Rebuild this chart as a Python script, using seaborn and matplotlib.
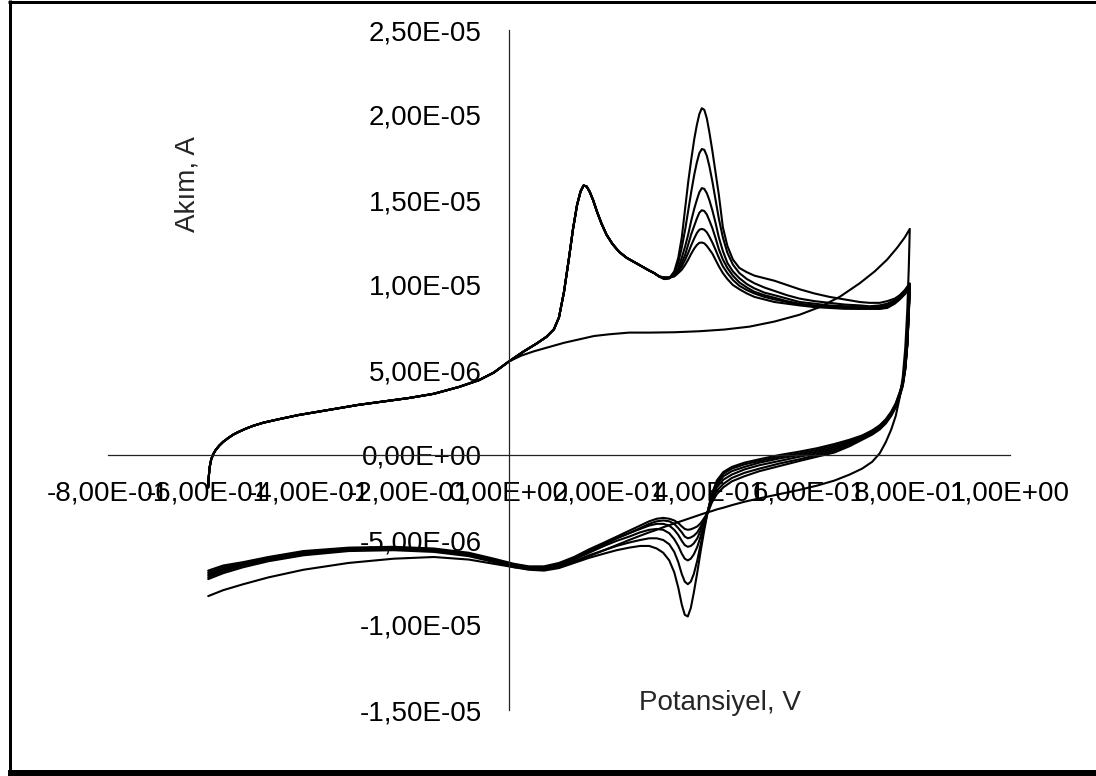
import numpy as np
import pandas as pd
import matplotlib
matplotlib.use("Agg")
import matplotlib.pyplot as plt
from matplotlib.lines import Line2D
import seaborn as sns

# ---------------- data (current in microampere, potential in V) ----------------
# forward scan, part shared by cycles 2-7
FWD_COMMON_V = [-0.600, -0.599, -0.597, -0.594, -0.590, -0.585, -0.578, -0.570, -0.560, -0.550,
                -0.540, -0.525, -0.510, -0.490, -0.460, -0.420, -0.380, -0.340, -0.300, -0.250,
                -0.200, -0.150, -0.100, -0.060, -0.030, 0.000, 0.030, 0.055, 0.075, 0.090,
                0.100, 0.110, 0.120, 0.128, 0.136, 0.143, 0.149, 0.155, 0.161, 0.168,
                0.176, 0.185, 0.195, 0.207, 0.220, 0.235, 0.250, 0.265, 0.280, 0.290]
FWD_COMMON_I = [-1.9, -1.3, -0.7, -0.25, 0.05, 0.3, 0.55, 0.78, 1.0, 1.2,
                1.35, 1.55, 1.72, 1.9, 2.1, 2.35, 2.55, 2.75, 2.95, 3.15,
                3.35, 3.6, 4.0, 4.4, 4.85, 5.5, 6.1, 6.55, 6.95, 7.4,
                8.1, 9.6, 11.6, 13.3, 14.7, 15.5, 15.85, 15.8, 15.5, 15.0,
                14.3, 13.6, 12.95, 12.4, 11.95, 11.6, 11.35, 11.1, 10.85, 10.7]

# forward scan, second oxidation peak region (differs per cycle)
FWD_TAIL_V = [0.300, 0.310, 0.320, 0.330, 0.338, 0.345, 0.352, 0.358, 0.364, 0.370,
              0.375, 0.380, 0.385, 0.390, 0.395, 0.400, 0.406, 0.412, 0.419, 0.427,
              0.436, 0.447, 0.460, 0.475, 0.490, 0.510, 0.530, 0.555, 0.580, 0.610,
              0.640, 0.670, 0.700, 0.720, 0.740, 0.755, 0.770, 0.780, 0.790, 0.800]
FWD_TAIL_C2 = [10.5, 10.45, 10.45, 10.5, 10.7, 10.9, 11.2, 11.5, 11.85, 12.15,
               12.35, 12.48, 12.5, 12.45, 12.3, 12.1, 11.85, 11.5, 11.1, 10.7,
               10.35, 10.0, 9.75, 9.5, 9.3, 9.15, 9.0, 8.9, 8.8, 8.7,
               8.65, 8.6, 8.6, 8.6, 8.6, 8.65, 8.9, 9.15, 9.45, 9.8]
FWD_TAIL_C3 = [10.5, 10.45, 10.45, 10.55, 10.8, 11.1, 11.5, 11.9, 12.35, 12.75,
               13.05, 13.25, 13.3, 13.25, 13.1, 12.85, 12.5, 12.1, 11.6, 11.1,
               10.7, 10.3, 9.95, 9.7, 9.5, 9.3, 9.15, 9.0, 8.85, 8.75,
               8.7, 8.65, 8.6, 8.6, 8.6, 8.7, 8.95, 9.2, 9.5, 9.9]
FWD_TAIL_C4 = [10.5, 10.4, 10.4, 10.55, 10.9, 11.3, 11.8, 12.4, 13.0, 13.5,
               13.9, 14.25, 14.4, 14.35, 14.15, 13.8, 13.35, 12.8, 12.1, 11.5,
               11.0, 10.55, 10.15, 9.85, 9.6, 9.4, 9.25, 9.05, 8.9, 8.8,
               8.75, 8.7, 8.65, 8.65, 8.65, 8.75, 9.0, 9.25, 9.55, 9.95]
FWD_TAIL_C5 = [10.5, 10.4, 10.4, 10.6, 11.0, 11.6, 12.3, 13.0, 13.8, 14.5,
               15.0, 15.45, 15.7, 15.65, 15.4, 15.0, 14.4, 13.7, 12.8, 12.0,
               11.3, 10.8, 10.4, 10.05, 9.8, 9.55, 9.4, 9.2, 9.0, 8.9,
               8.8, 8.75, 8.7, 8.7, 8.7, 8.8, 9.05, 9.3, 9.6, 10.0]
FWD_TAIL_C6 = [10.5, 10.35, 10.4, 10.7, 11.3, 12.2, 13.3, 14.4, 15.5, 16.5,
               17.2, 17.75, 18.0, 17.95, 17.6, 17.0, 16.1, 15.1, 13.9, 12.8,
               11.9, 11.2, 10.7, 10.35, 10.1, 9.85, 9.65, 9.4, 9.2, 9.05,
               8.95, 8.85, 8.8, 8.75, 8.8, 8.9, 9.1, 9.35, 9.65, 10.05]
FWD_TAIL_C7 = [10.5, 10.35, 10.4, 10.8, 11.6, 12.8, 14.6, 16.1, 17.4, 18.6,
               19.4, 20.05, 20.4, 20.3, 19.8, 19.0, 17.9, 16.7, 15.3, 13.4,
               12.3, 11.5, 11.0, 10.75, 10.55, 10.4, 10.25, 10.0, 9.75, 9.5,
               9.3, 9.15, 9.0, 8.95, 8.95, 9.05, 9.2, 9.4, 9.7, 10.1]

# reverse scans (0.8 V -> -0.6 V)
REV_V = [0.798, 0.795, 0.791, 0.786, 0.780, 0.772, 0.763, 0.752, 0.740, 0.725,
         0.705, 0.680, 0.650, 0.615, 0.580, 0.540, 0.500, 0.470, 0.445, 0.428,
         0.415, 0.405, 0.397, 0.390, 0.383, 0.376, 0.369, 0.363, 0.357, 0.351,
         0.345, 0.338, 0.330, 0.320, 0.308, 0.295, 0.280, 0.262, 0.240, 0.215,
         0.190, 0.160, 0.130, 0.100, 0.070, 0.040, 0.010, -0.030, -0.080, -0.150,
         -0.230, -0.320, -0.410, -0.480, -0.530, -0.570, -0.600]
REV_C1 = [11.0, 8.5, 6.3, 4.6, 3.4, 2.3, 1.5, 0.75, 0.1, -0.4,
          -0.8, -1.15, -1.5, -1.8, -2.05, -2.3, -2.55, -2.75, -2.95, -3.1,
          -3.2, -3.3, -3.37, -3.43, -3.5, -3.57, -3.64, -3.7, -3.76, -3.82,
          -3.88, -3.95, -4.03, -4.13, -4.25, -4.4, -4.55, -4.75, -5.0, -5.3,
          -5.6, -5.95, -6.3, -6.55, -6.7, -6.7, -6.6, -6.4, -6.15, -6.0,
          -6.1, -6.35, -6.75, -7.2, -7.6, -7.95, -8.3]
REV_C2 = [8.2, 6.4, 5.0, 4.05, 3.45, 2.8, 2.3, 1.85, 1.5, 1.2,
          0.9, 0.52, 0.15, -0.1, -0.35, -0.65, -0.95, -1.25, -1.55, -1.9,
          -2.3, -2.8, -3.4, -3.7, -4.0, -4.2, -4.3, -4.37, -4.4, -4.35,
          -4.2, -4.0, -3.85, -3.75, -3.7, -3.75, -3.9, -4.15, -4.45, -4.8,
          -5.15, -5.55, -6.0, -6.35, -6.55, -6.55, -6.4, -6.1, -5.75, -5.5,
          -5.4, -5.45, -5.65, -6.0, -6.3, -6.5, -6.8]
REV_C3 = [8.3, 6.45, 5.05, 4.1, 3.5, 2.85, 2.35, 1.9, 1.55, 1.25,
          0.95, 0.6, 0.25, 0.0, -0.25, -0.5, -0.8, -1.05, -1.35, -1.7,
          -2.1, -2.65, -3.35, -3.75, -4.2, -4.55, -4.75, -4.85, -4.9, -4.8,
          -4.55, -4.3, -4.05, -3.9, -3.85, -3.9, -4.05, -4.3, -4.6, -4.9,
          -5.25, -5.65, -6.05, -6.4, -6.6, -6.6, -6.45, -6.15, -5.8, -5.55,
          -5.45, -5.5, -5.7, -6.05, -6.35, -6.6, -6.9]
REV_C4 = [8.4, 6.5, 5.1, 4.15, 3.55, 2.9, 2.4, 1.95, 1.6, 1.3,
          1.0, 0.68, 0.35, 0.1, -0.1, -0.35, -0.6, -0.85, -1.15, -1.45,
          -1.9, -2.5, -3.3, -3.85, -4.4, -4.9, -5.2, -5.35, -5.4, -5.3,
          -5.05, -4.7, -4.4, -4.15, -4.05, -4.05, -4.15, -4.35, -4.6, -4.9,
          -5.25, -5.65, -6.1, -6.45, -6.65, -6.65, -6.5, -6.2, -5.85, -5.6,
          -5.5, -5.55, -5.75, -6.1, -6.4, -6.7, -7.0]
REV_C5 = [8.4, 6.5, 5.15, 4.2, 3.6, 2.95, 2.45, 2.0, 1.65, 1.35,
          1.05, 0.75, 0.45, 0.2, 0.0, -0.2, -0.45, -0.7, -0.95, -1.25,
          -1.75, -2.4, -3.3, -4.0, -4.75, -5.4, -5.85, -6.1, -6.2, -6.1,
          -5.8, -5.35, -4.95, -4.6, -4.4, -4.35, -4.4, -4.55, -4.8, -5.05,
          -5.35, -5.75, -6.15, -6.5, -6.7, -6.7, -6.5, -6.2, -5.85, -5.6,
          -5.5, -5.55, -5.8, -6.15, -6.45, -6.75, -7.1]
REV_C6 = [8.5, 6.6, 5.2, 4.25, 3.65, 3.0, 2.5, 2.05, 1.7, 1.4,
          1.1, 0.82, 0.55, 0.3, 0.1, -0.1, -0.35, -0.55, -0.8, -1.1,
          -1.6, -2.3, -3.3, -4.2, -5.2, -6.2, -7.0, -7.45, -7.6, -7.45,
          -7.0, -6.3, -5.7, -5.25, -5.0, -4.9, -4.9, -5.0, -5.15, -5.35,
          -5.6, -5.9, -6.25, -6.55, -6.75, -6.7, -6.55, -6.25, -5.9, -5.65,
          -5.55, -5.6, -5.85, -6.2, -6.5, -6.85, -7.2]
REV_C7 = [8.5, 6.6, 5.2, 4.3, 3.7, 3.05, 2.55, 2.1, 1.75, 1.45,
          1.15, 0.9, 0.65, 0.4, 0.2, 0.0, -0.25, -0.45, -0.7, -1.0,
          -1.5, -2.3, -3.3, -4.4, -5.6, -6.9, -8.1, -9.0, -9.5, -9.4,
          -8.8, -7.8, -6.9, -6.2, -5.75, -5.5, -5.35, -5.35, -5.45, -5.6,
          -5.8, -6.05, -6.35, -6.65, -6.8, -6.75, -6.6, -6.3, -5.95, -5.7,
          -5.6, -5.65, -5.9, -6.25, -6.6, -6.95, -7.3]

# first cycle forward scan (no redox peaks)
FWD_C1_V = [0.000, 0.025, 0.050, 0.080, 0.110, 0.140, 0.170, 0.200, 0.240, 0.280,
            0.330, 0.380, 0.430, 0.480, 0.530, 0.580, 0.620, 0.660, 0.700, 0.730,
            0.755, 0.775, 0.790, 0.800]
FWD_C1_I = [5.5, 5.85, 6.1, 6.35, 6.6, 6.8, 7.0, 7.1, 7.2, 7.2,
            7.22, 7.28, 7.38, 7.55, 7.85, 8.25, 8.7, 9.3, 10.1, 10.8,
            11.5, 12.2, 12.8, 13.3]

X_TICKS = [-0.8, -0.6, -0.4, -0.2, 0.0, 0.2, 0.4, 0.6, 0.8, 1.0]
Y_TICKS = [-1.5e-5, -1.0e-5, -5.0e-6, 0.0, 5.0e-6, 1.0e-5, 1.5e-5, 2.0e-5, 2.5e-5]
X_LABEL = "Potansiyel, V"
Y_LABEL = "Akım, A"

# ---------------- build long table ----------------
rows = []
def add(cycle, V, I):
    for v, i in zip(V, I):
        rows.append((cycle, v, i * 1e-6))

add(1, FWD_C1_V + REV_V, FWD_C1_I + REV_C1)
tails = [FWD_TAIL_C2, FWD_TAIL_C3, FWD_TAIL_C4, FWD_TAIL_C5, FWD_TAIL_C6, FWD_TAIL_C7]
revs = [REV_C2, REV_C3, REV_C4, REV_C5, REV_C6, REV_C7]
for k, (t, r) in enumerate(zip(tails, revs), start=2):
    add(k, FWD_COMMON_V + FWD_TAIL_V + REV_V, FWD_COMMON_I + t + r)
df = pd.DataFrame(rows, columns=["cycle", "V", "I"])

# ---------------- figure ----------------
sns.set_style("white")
plt.rcParams["font.family"] = ["Liberation Sans", "DejaVu Sans"]

W, H = 1096, 776
fig = plt.figure(figsize=(W / 100, H / 100), dpi=100)
ax = fig.add_axes([108 / W, 1 - 710 / H, 902 / W, 680 / H])

sns.lineplot(data=df, x="V", y="I", units="cycle", estimator=None, sort=False,
             color="black", linewidth=1.5, legend=False, ax=ax)

ax.set_xlim(-0.8, 1.0)
ax.set_ylim(-1.5e-5, 2.5e-5)
for s in ["top", "right"]:
    ax.spines[s].set_visible(False)
for s in ["left", "bottom"]:
    ax.spines[s].set_position(("data", 0))
    ax.spines[s].set_color("#222222")
    ax.spines[s].set_linewidth(0.9)

def fmt(v):
    return f"{v:.2E}".replace(".", ",")

ax.set_xticks(X_TICKS)
ax.set_xticklabels([fmt(v) for v in X_TICKS])
ax.set_yticks(Y_TICKS)
ax.set_yticklabels([fmt(v) for v in Y_TICKS])
ax.tick_params(axis="x", length=0, pad=18.5, labelsize=20, colors="black")
ax.tick_params(axis="y", length=0, pad=19.5, labelsize=20, colors="black")
ax.grid(False)

ax.set_xlabel(X_LABEL, fontsize=20, va="center")
ax.xaxis.set_label_coords((720 - 108) / 902, (710 - 703) / 680)
ax.set_ylabel(Y_LABEL, fontsize=20, va="center")
ax.yaxis.set_label_coords((187 - 108) / 902, (710 - 184) / 680)

# chart-area border
def px_line(x0, y0, x1, y1, lw):
    fig.add_artist(Line2D([x0 / W, x1 / W], [1 - y0 / H, 1 - y1 / H],
                          transform=fig.transFigure, color="black", linewidth=lw * 0.72,
                          solid_capstyle="butt"))

px_line(9.5, 0, 9.5, H, 3)
px_line(8, 1.5, W, 1.5, 3)
px_line(8, 773, W, 773, 6)

fig.savefig("out.png", dpi=100, facecolor="white")
